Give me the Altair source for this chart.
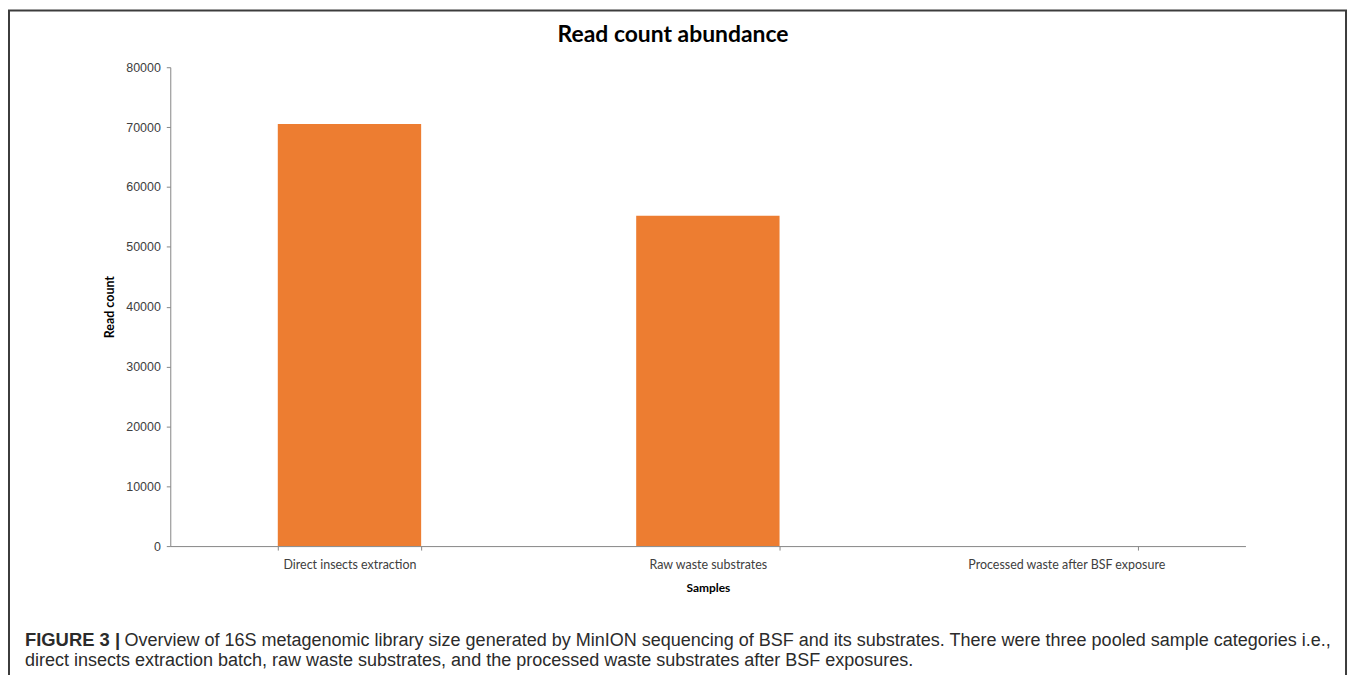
import altair as alt
import pandas as pd

samples = ["Direct insects extraction", "Raw waste substrates", "Processed waste after BSF exposure"]
read_counts = [70500, 55200, 0]
y_ticks = [0, 10000, 20000, 30000, 40000, 50000, 60000, 70000, 80000]

chart_title = "Read count abundance"
caption_bold = "FIGURE 3 |"
caption_line1 = ("Overview of 16S metagenomic library size generated by MinION sequencing of BSF "
                 "and its substrates. There were three pooled sample categories i.e.,")
caption_line2 = ("direct insects extraction batch, raw waste substrates, and the processed waste "
                 "substrates after BSF exposures.")

df = pd.DataFrame({"Sample": samples, "Read count": read_counts})
one = pd.DataFrame({"k": [0]})

axis_col = "#868686"
lab_col = "#404040"

bars = alt.Chart(df).mark_bar(color="#ED7D31").encode(
    x=alt.X("Sample:N", sort=samples,
            scale=alt.Scale(paddingInner=0.6, paddingOuter=0.3),
            axis=alt.Axis(title="Samples", labelAngle=0, tickBand="extent", labelLimit=500,
                          domainColor=axis_col, tickColor=axis_col, tickSize=4,
                          labelPadding=9, labelFont="Lato", labelFontSize=12.5,
                          labelColor=lab_col, titleFont="Lato", titleFontSize=12,
                          titleFontWeight="bold", titleColor="#000", titlePadding=11)),
    y=alt.Y("Read count:Q", scale=alt.Scale(domain=[0, 80000], nice=False),
            axis=alt.Axis(title="Read count", values=y_ticks, format="d", grid=False,
                          domainColor=axis_col, tickColor=axis_col, tickSize=4,
                          labelPadding=6, labelFont="Liberation Sans", labelFontSize=12.5,
                          labelColor=lab_col, titleFont="Lato", titleFontSize=12.5,
                          titleFontWeight="bold", titleColor="#000", titlePadding=9)),
)

frame = alt.Chart(one).mark_rect(fill="transparent", stroke="#3c3c3c", strokeWidth=2).encode(
    x=alt.value(-162), x2=alt.value(1181), y=alt.value(-57), y2=alt.value(720)
)

title = alt.Chart(one).mark_text(align="center", baseline="alphabetic", font="Lato",
                                 fontSize=23, fontWeight="bold", color="#000").encode(
    x=alt.value(505), y=alt.value(-25), text=alt.value(chart_title)
)

cap_b = alt.Chart(one).mark_text(align="left", baseline="alphabetic", font="Liberation Sans",
                                 fontSize=18.5, fontWeight="bold", color="#2b2b2b").encode(
    x=alt.value(-146), y=alt.value(581), text=alt.value(caption_bold)
)
cap_1 = alt.Chart(one).mark_text(align="left", baseline="alphabetic", font="Liberation Sans",
                                 fontSize=18.1, color="#2b2b2b").encode(
    x=alt.value(-46), y=alt.value(581), text=alt.value(caption_line1)
)
cap_2 = alt.Chart(one).mark_text(align="left", baseline="alphabetic", font="Liberation Sans",
                                 fontSize=18.1, color="#2b2b2b").encode(
    x=alt.value(-146), y=alt.value(601), text=alt.value(caption_line2)
)

chart = alt.layer(frame, bars, title, cap_b, cap_1, cap_2).properties(
    width=1080, height=481,
    autosize=alt.AutoSizeParams(type="none"),
    padding={"left": 163, "top": 58, "right": 104, "bottom": 128},
).configure_view(stroke=None)

chart.save("out.html", embed_options={"renderer": "svg", "actions": False})
